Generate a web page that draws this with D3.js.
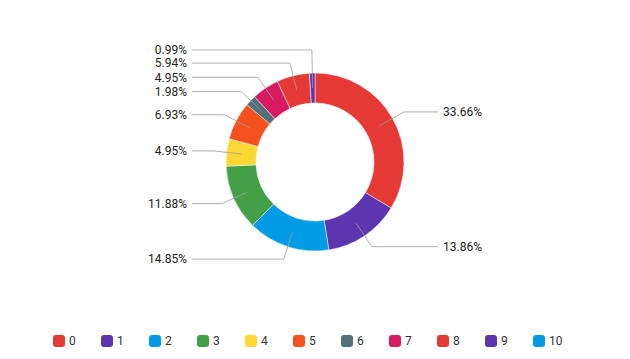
<!DOCTYPE html>
<html>
<head>
<meta charset="utf-8">
<script src="https://cdn.jsdelivr.net/npm/d3@7"></script>
<style>
  body { margin: 0; background: #fff; }
  svg { display: block; }
</style>
</head>
<body>
<svg width="630" height="359"></svg>
<script>
// chart data
var categories = ["0", "1", "2", "3", "4", "5", "6", "7", "8", "9", "10"];
var values = [34, 14, 15, 12, 5, 7, 2, 5, 6, 1, 0];
var colors = ["#e53935", "#5e35b1", "#039be5", "#43a047", "#fdd835", "#f4511e",
              "#546e7a", "#d81b60", "#e53935", "#5e35b1", "#039be5"];

var width = 630, height = 359,
    cx = 315, cy = 162,
    outerR = 89, innerR = 59,
    midR = (outerR + innerR) / 2,
    elbowR = 102;

var svg = d3.select("svg");
var total = d3.sum(values);

var pie = d3.pie().sort(null).value(function (d) { return d.value; });
var arc = d3.arc().innerRadius(innerR).outerRadius(outerR);

var data = categories.map(function (c, i) { return { name: c, value: values[i], color: colors[i] }; });
var arcs = pie(data).filter(function (d) { return d.value > 0; });

var g = svg.append("g").attr("transform", "translate(" + cx + "," + cy + ")");

g.selectAll("path.slice")
    .data(arcs)
    .enter().append("path")
    .attr("class", "slice")
    .attr("d", arc)
    .attr("fill", function (d) { return d.data.color; })
    .attr("stroke", "#fff")
    .attr("stroke-width", 0.5);

// label positions
function polar(r, a) { return [r * Math.sin(a), -r * Math.cos(a)]; }

var labels = arcs.map(function (d) {
    var a = (d.startAngle + d.endAngle) / 2;
    var p0 = polar(midR, a), p1 = polar(elbowR, a);
    return {
        text: (d.value / total * 100).toFixed(2) + "%",
        right: p1[0] > 0,
        p0: p0, ex: p1[0], y: p1[1]
    };
});

// push overlapping labels apart on each side
[true, false].forEach(function (side) {
    var s = labels.filter(function (l) { return l.right === side; })
        .sort(function (a, b) { return b.y - a.y; });
    for (var i = 1; i < s.length; i++) {
        if (s[i].y > s[i - 1].y - 13.2) s[i].y = s[i - 1].y - 13.2;
    }
});

var lineX = 123, textX = 128;

g.selectAll("polyline.leader")
    .data(labels)
    .enter().append("polyline")
    .attr("class", "leader")
    .attr("fill", "none")
    .attr("stroke", "#9e9e9e")
    .attr("stroke-width", 0.8)
    .attr("points", function (d) {
        var endX = d.right ? lineX : -lineX;
        return [d.p0, [d.ex, d.y], [endX, d.y]].map(function (p) { return p.join(","); }).join(" ");
    });

g.selectAll("text.pct")
    .data(labels)
    .enter().append("text")
    .attr("class", "pct")
    .attr("x", function (d) { return d.right ? textX : -textX; })
    .attr("y", function (d) { return d.y; })
    .attr("dy", "0.35em")
    .attr("text-anchor", function (d) { return d.right ? "start" : "end"; })
    .style("font-family", "Roboto, 'Liberation Sans', Arial, sans-serif")
    .style("font-size", "12px")
    .style("fill", "#222")
    .text(function (d) { return d.text; });

// legend
var legendX = d3.scaleBand().domain(categories).range([53, 53 + 48 * categories.length]);

var legend = svg.append("g").attr("class", "legend")
    .selectAll("g")
    .data(data)
    .enter().append("g")
    .attr("transform", function (d) { return "translate(" + legendX(d.name) + ",335)"; });

legend.append("rect")
    .attr("width", 12)
    .attr("height", 12)
    .attr("rx", 3)
    .attr("fill", function (d) { return d.color; });

legend.append("text")
    .attr("x", 16)
    .attr("y", 6)
    .attr("dy", "0.36em")
    .style("font-family", "Roboto, 'Liberation Sans', Arial, sans-serif")
    .style("font-size", "12px")
    .style("fill", "#333")
    .text(function (d) { return d.name; });
</script>
</body>
</html>
